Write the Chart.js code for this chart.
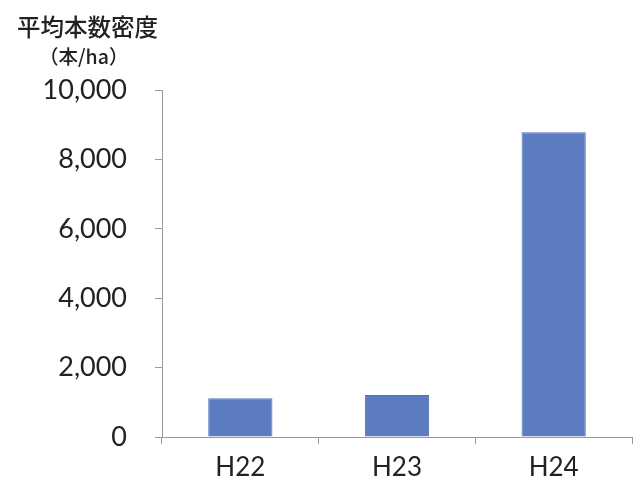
<!DOCTYPE html>
<html><head><meta charset="utf-8">
<script src="https://cdn.jsdelivr.net/npm/chart.js@4"></script>
<style>
html,body{margin:0;padding:0;background:#fff;}
#wrap{position:relative;width:633px;height:490px;}
.t{position:absolute;font-family:"Noto Sans CJK JP";color:#222;white-space:nowrap;font-weight:500;}
</style></head><body>
<div id="wrap">
<canvas id="c" width="633" height="490"></canvas>
<div class="t" id="t1" style="left:17px;top:11px;font-size:23.5px;line-height:30px;"></div>
<div class="t" id="t2" style="left:39px;top:43px;font-size:19.5px;line-height:26px;"></div>
</div>
<script>
const titleLine1 = "平均本数密度";
const titleLine2 = "（本/ha）";
const categories = ["H22", "H23", "H24"];
const densityValues = [1120, 1210, 8780];
const yTicks = [0, 2000, 4000, 6000, 8000, 10000];

document.getElementById('t1').textContent = titleLine1;
document.getElementById('t2').textContent = titleLine2;

new Chart(document.getElementById('c'), {
  type: 'bar',
  data: {
    labels: categories,
    datasets: [{
      data: densityValues,
      backgroundColor: '#5b7cc0',
      borderColor: '#5272b5',
      borderWidth: 1,
      categoryPercentage: 1.0,
      barPercentage: 0.41
    }]
  },
  options: {
    responsive: false,
    animation: false,
    devicePixelRatio: 1,
    layout: {padding: {top: 90, right: 1, left: 0, bottom: 0}},
    plugins: {legend: {display: false}, tooltip: {enabled: false}},
    scales: {
      x: {
        afterFit: s => { s.height = 53; },
        grid: {display: true, drawOnChartArea: false, drawTicks: true, tickLength: 7, color: '#999', offset: true},
        border: {display: true, color: '#999', width: 1},
        ticks: {padding: 8, color: '#222', font: {family: 'Lato', size: 26}}
      },
      y: {
        min: 0, max: 10000,
        afterFit: s => { s.width = 162; },
        afterBuildTicks: s => { s.ticks = yTicks.map(v => ({value: v})); },
        grid: {display: true, drawOnChartArea: false, drawTicks: true, tickLength: 7, color: '#999'},
        border: {display: true, color: '#999', width: 1},
        ticks: {padding: 28, color: '#222', font: {family: 'Lato', size: 27},
          callback: v => v.toLocaleString('en-US')}
      }
    }
  }
});
</script>
</body></html>
